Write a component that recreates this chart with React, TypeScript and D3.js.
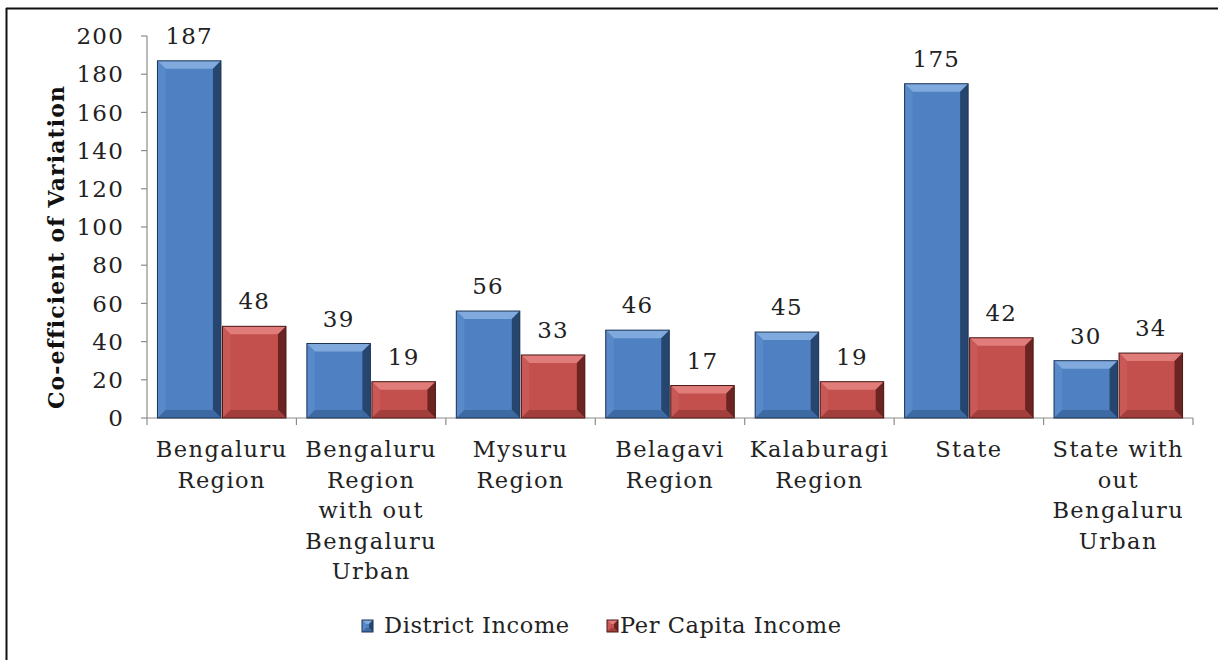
import { useEffect, useRef } from "react";
import * as d3 from "d3";

const categories = [
  ["Bengaluru", "Region"],
  ["Bengaluru", "Region", "with out", "Bengaluru", "Urban"],
  ["Mysuru", "Region"],
  ["Belagavi", "Region"],
  ["Kalaburagi", "Region"],
  ["State"],
  ["State with", "out", "Bengaluru", "Urban"],
];
const districtIncome = [187, 39, 56, 46, 45, 175, 30];
const perCapitaIncome = [48, 19, 33, 17, 19, 42, 34];
const seriesNames = ["District Income", "Per Capita Income"];
const yTicks = [0, 20, 40, 60, 80, 100, 120, 140, 160, 180, 200];

const PALETTE = [
  { face: "#4f81c2", top: "#80aadd", left: "#5889c9", right: "#27466f", bottom: "#3e6aa3", edge: "#1d3555" },
  { face: "#c4504d", top: "#e07d7a", left: "#c95956", right: "#6c2422", bottom: "#a23e3b", edge: "#4a1816" },
];

const SERIF = "'DejaVu Serif', serif";

export default function App() {
  const svgRef = useRef<SVGSVGElement>(null);

  useEffect(() => {
    if (!svgRef.current) return;
    const svg = d3.select(svgRef.current);
    svg.selectAll("*").remove();

    const width = 1218;
    const height = 660;
    const plot = { left: 147, right: 1193, top: 36, bottom: 418 };

    // Frame
    svg.append("line").attr("x1", 6).attr("y1", 8.5).attr("x2", width).attr("y2", 8.5)
      .attr("stroke", "#111").attr("stroke-width", 2);
    svg.append("line").attr("x1", 6.5).attr("y1", 8).attr("x2", 6.5).attr("y2", height)
      .attr("stroke", "#111").attr("stroke-width", 2);

    const x0 = d3.scaleBand<number>().domain(d3.range(categories.length)).range([plot.left, plot.right]).padding(0);
    const barW = x0.bandwidth() * 0.425;
    const gap = 1.5;
    const y = d3.scaleLinear().domain([0, 200]).range([plot.bottom, plot.top]);

    // Y axis
    const axisColor = "#8c8c8c";
    svg.append("line").attr("x1", plot.left).attr("x2", plot.left).attr("y1", plot.top).attr("y2", plot.bottom)
      .attr("stroke", axisColor).attr("stroke-width", 1.2);
    yTicks.forEach((t) => {
      svg.append("line").attr("x1", plot.left - 6).attr("x2", plot.left).attr("y1", y(t)).attr("y2", y(t))
        .attr("stroke", axisColor).attr("stroke-width", 1.2);
      svg.append("text").attr("x", 124).attr("y", y(t)).attr("dy", "0.36em")
        .attr("text-anchor", "end").attr("font-family", SERIF).attr("font-size", 23)
        .attr("letter-spacing", 1.2).attr("fill", "#222").text(t);
    });

    // X axis
    svg.append("line").attr("x1", plot.left).attr("x2", plot.right).attr("y1", plot.bottom).attr("y2", plot.bottom)
      .attr("stroke", axisColor).attr("stroke-width", 1.2);
    d3.range(categories.length + 1).forEach((i) => {
      const xx = plot.left + i * x0.bandwidth();
      svg.append("line").attr("x1", xx).attr("x2", xx).attr("y1", plot.bottom).attr("y2", plot.bottom + 7)
        .attr("stroke", axisColor).attr("stroke-width", 1.2);
    });

    // Axis title
    svg.append("text")
      .attr("transform", `translate(64, 247) rotate(-90)`)
      .attr("text-anchor", "middle")
      .attr("font-family", SERIF).attr("font-weight", "bold").attr("font-size", 22)
      .attr("letter-spacing", 1.1)
      .attr("fill", "#111").text("Co-efficient of Variation");

    function bevelBar(g: d3.Selection<SVGGElement, unknown, null, undefined>, bx: number, by: number, w: number, h: number, p: typeof PALETTE[0]) {
      const b = Math.min(8, h / 3);
      g.append("rect").attr("x", bx).attr("y", by).attr("width", w).attr("height", h).attr("fill", p.face);
      const poly = (pts: number[][], fill: string) =>
        g.append("polygon").attr("points", pts.map((q) => q.join(",")).join(" ")).attr("fill", fill);
      poly([[bx, by], [bx + w, by], [bx + w - b, by + b], [bx + b, by + b]], p.top);
      poly([[bx, by], [bx + b, by + b], [bx + b, by + h - b], [bx, by + h]], p.left);
      poly([[bx + w, by], [bx + w, by + h], [bx + w - b, by + h - b], [bx + w - b, by + b]], p.right);
      poly([[bx, by + h], [bx + w, by + h], [bx + w - b, by + h - b], [bx + b, by + h - b]], p.bottom);
      g.append("rect").attr("x", bx).attr("y", by).attr("width", w).attr("height", h)
        .attr("fill", "none").attr("stroke", p.edge).attr("stroke-width", 1);
    }

    // Bars
    const series = [districtIncome, perCapitaIncome];
    categories.forEach((_, i) => {
      const cx = (x0(i) as number) + x0.bandwidth() / 2;
      series.forEach((vals, s) => {
        const v = vals[i];
        const bx = s === 0 ? cx - gap / 2 - barW : cx + gap / 2;
        const g = svg.append("g");
        bevelBar(g, bx, y(v), barW, y(0) - y(v), PALETTE[s]);
        svg.append("text").attr("x", bx + barW / 2).attr("y", y(v) - 17)
          .attr("text-anchor", "middle").attr("font-family", SERIF).attr("font-size", 23)
          .attr("letter-spacing", 1.2).attr("fill", "#222").text(v);
      });
    });

    // Category labels
    categories.forEach((lines, i) => {
      const cx = (x0(i) as number) + x0.bandwidth() / 2;
      const t = svg.append("text").attr("text-anchor", "middle").attr("font-family", SERIF)
        .attr("font-size", 22.5).attr("letter-spacing", 1.4).attr("fill", "#222");
      lines.forEach((ln, k) => {
        t.append("tspan").attr("x", cx).attr("y", 457 + k * 30.5).text(ln);
      });
    });

    // Legend
    const legendItems = [
      { x: 362, tx: 382 },
      { x: 607, tx: 618 },
    ];
    legendItems.forEach((it, s) => {
      const g = svg.append("g");
      bevelBar(g, it.x, 620, 11, 12, PALETTE[s]);
      svg.append("text").attr("x", it.tx + 2).attr("y", 633).attr("font-family", SERIF)
        .attr("font-size", 22.5).attr("letter-spacing", 0.6).attr("fill", "#222").text(seriesNames[s]);
    });
  }, []);

  return (
    <svg
      ref={svgRef}
      width={1218}
      height={660}
      style={{ position: "absolute", left: 0, top: 0, background: "#fff" }}
    />
  );
}
